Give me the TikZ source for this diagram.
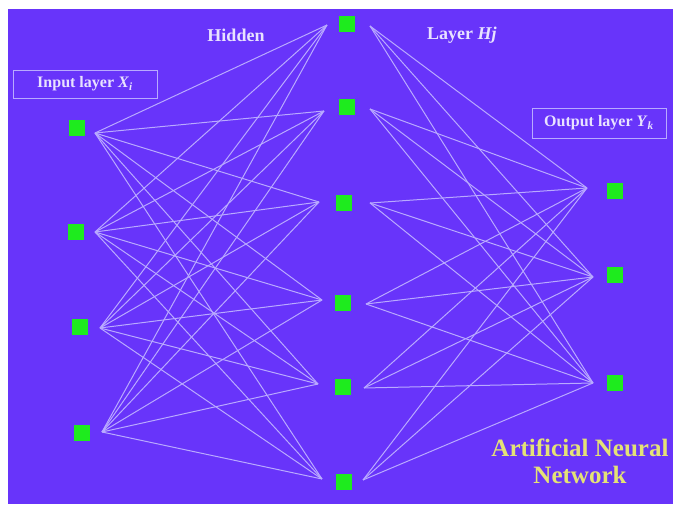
\documentclass[tikz,border=0pt]{standalone}
\usepackage{fontspec}
\setmainfont{Liberation Serif}
\definecolor{bgpurple}{RGB}{104,52,250}
\definecolor{nodegreen}{RGB}{30,235,30}
\definecolor{wirecol}{RGB}{185,170,255}
\definecolor{labelcol}{RGB}{232,226,255}
\definecolor{titlecol}{RGB}{228,226,118}
\begin{document}
\begin{tikzpicture}[x=1pt,y=-1pt,
  neuron/.style={rectangle, fill=nodegreen, draw=none, minimum size=16pt, inner sep=0pt},
  wire/.style={draw=wirecol, line width=1pt},
  layerbox/.style={draw=wirecol, line width=0.9pt, text=labelcol, inner sep=0pt,
    font=\bfseries\fontsize{16}{18}\selectfont},
  headtext/.style={text=labelcol, inner sep=0pt, font=\bfseries\fontsize{18}{20}\selectfont},
  titletext/.style={text=titlecol, inner sep=0pt, align=center,
    font=\bfseries\fontsize{25}{27}\selectfont}]
\useasboundingbox (0,0) rectangle (673,510);
\fill[white] (0,0) rectangle (673,510);
\fill[bgpurple] (8,9) rectangle (673,504);

% neurons
\node[neuron] (in1) at (77,128) {};
\node[neuron] (in2) at (76,232) {};
\node[neuron] (in3) at (80,327) {};
\node[neuron] (in4) at (82,433) {};
\node[neuron] (hd1) at (347,24) {};
\node[neuron] (hd2) at (347,107) {};
\node[neuron] (hd3) at (344,203) {};
\node[neuron] (hd4) at (343,303) {};
\node[neuron] (hd5) at (343,387) {};
\node[neuron] (hd6) at (344,482) {};
\node[neuron] (ou1) at (615,191) {};
\node[neuron] (ou2) at (615,275) {};
\node[neuron] (ou3) at (615,383) {};

% connection ports
\coordinate (ip1) at (95,133);
\coordinate (ip2) at (95,232);
\coordinate (ip3) at (100,328);
\coordinate (ip4) at (102,432);
\coordinate (hl1) at (327,25);
\coordinate (hl2) at (324,111);
\coordinate (hl3) at (319,202);
\coordinate (hl4) at (322,300);
\coordinate (hl5) at (318,384);
\coordinate (hl6) at (322,479);
\coordinate (hr1) at (370,26);
\coordinate (hr2) at (370,109);
\coordinate (hr3) at (370,203);
\coordinate (hr4) at (366,304);
\coordinate (hr5) at (364,388);
\coordinate (hr6) at (363,480);
\coordinate (op1) at (587,188);
\coordinate (op2) at (593,277);
\coordinate (op3) at (593,383);

\foreach \a in {1,...,4}
  \foreach \b in {1,...,6}
    \draw[wire] (ip\a) -- (hl\b);
\foreach \a in {1,...,6}
  \foreach \b in {1,...,3}
    \draw[wire] (hr\a) -- (op\b);

% labels
\node[layerbox, minimum width=144pt, minimum height=28pt] (inbox) at (85,84)
  {Input layer \textit{X}\textsubscript{\textit{i}}};
\node[layerbox, minimum width=134pt, minimum height=30pt] (outbox) at (599,123)
  {Output layer \textit{Y}\textsubscript{\textit{k}}};
\node[headtext] (hidden) at (236,35) {Hidden};
\node[headtext] (layer) at (462,35) {Layer \textit{Hj}};
\node[titletext] (ann) at (580,461) {Artificial Neural\\Network};
\end{tikzpicture}
\end{document}
